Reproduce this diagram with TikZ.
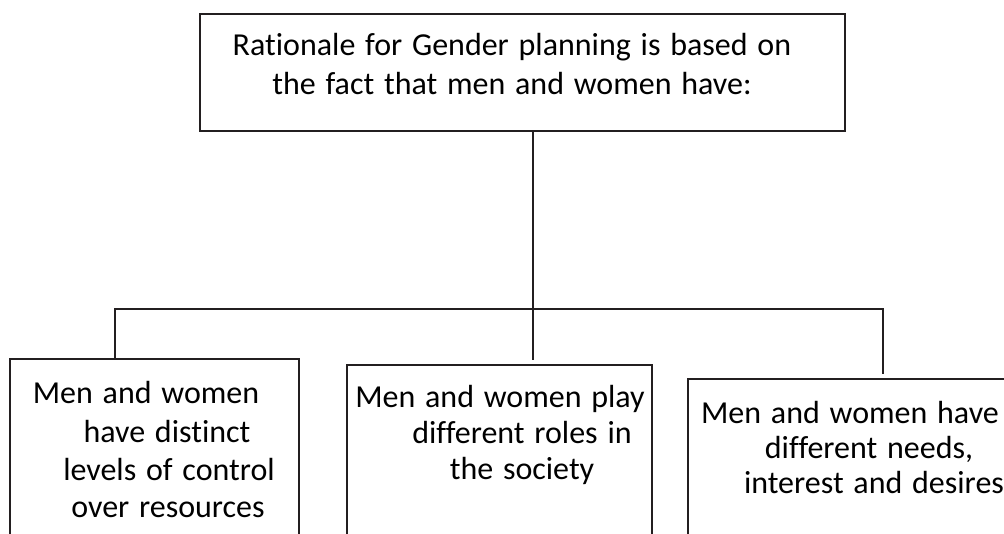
\documentclass[tikz,border=0pt]{standalone}
\usepackage{fontspec}
\setmainfont{Carlito}[Ligatures=NoCommon,WordSpace=1.35]
\usetikzlibrary{fit}
\definecolor{linegray}{RGB}{35,31,32}

\begin{document}
\begin{tikzpicture}[x=0.75pt,y=-0.75pt,
		box/.style={draw=linegray,line width=1.2pt,inner sep=0pt},
		txt/.style={anchor=base,inner sep=0pt,font=\fontsize{24pt}{29pt}\selectfont},
		wire/.style={draw=linegray,line width=1.2pt}]

	% Frame
	\useasboundingbox (0,0) rectangle (1004,533);
	\clip (0,0) rectangle (1004,533);

	% Boxes
	\node[box,fit={(200,14) (845,131)}] (Rat) {};
	\node[box,fit={(10,359) (299,570)}] (Res) {};
	\node[box,fit={(347,365) (652,570)}] (Roles) {};
	\node[box,fit={(688,379) (1020,570)}] (Needs) {};

	% Top text
	\node[txt] (Rat1) at (512,55) {Rationale for Gender planning is based on};
	\node[txt] (Rat2) at (512,94) {the fact that men and women have:};

	% Resources
	\node[txt] (Res1) at (146,403) {Men and women};
	\node[txt] (Res2) at (167,442) {have distinct};
	\node[txt] (Res3) at (169,480) {levels of control};
	\node[txt] (Res4) at (168,517) {over resources};

	% Roles
	\node[txt] (Roles1) at (500,407) {Men and women play};
	\node[txt] (Roles2) at (522,443) {different roles in};
	\node[txt] (Roles3) at (522,479) {the society};

	% Needs
	\node[txt] (Needs1) at (850,423) {Men and women have};
	\node[txt] (Needs2) at (869,458) {different needs,};
	\node[txt] (Needs3) at (874,493) {interest and desires};

	% Tree lines
	\coordinate (hub) at (533,309);
	\coordinate (hubEnd) at (533,360);
	\coordinate (busL) at (115,309);
	\coordinate (busR) at (883,309);
	\coordinate (needsTip) at (883,374);

	\draw[wire] (hub |- Rat.south) -- (hubEnd);
	\draw[wire] (busL |- Res.north) -- (busL) -- (busR) -- (needsTip);

\end{tikzpicture}
\end{document}
